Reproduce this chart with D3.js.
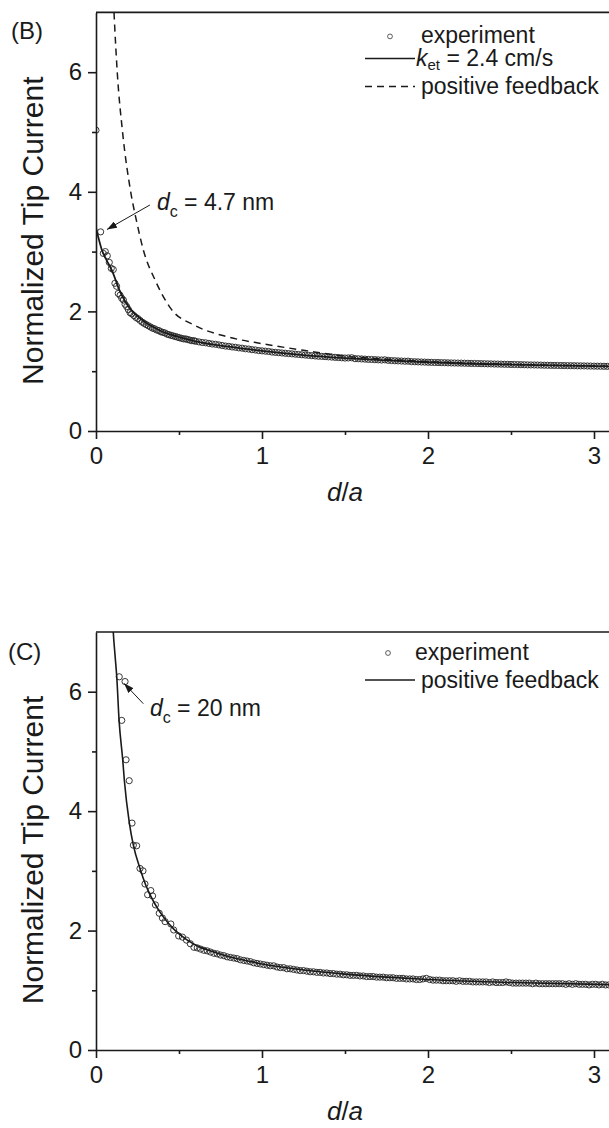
<!DOCTYPE html>
<html>
<head>
<meta charset="utf-8">
<script src="https://cdn.jsdelivr.net/npm/d3@7"></script>
<style>
  html, body { margin: 0; padding: 0; background: #fff; }
  svg { display: block; font-family: "Liberation Sans", Arial, sans-serif; }
</style>
</head>
<body>
<svg id="chart" width="609" height="1128"></svg>
<script>
// axis ticks (both panels share them)
const xTicks = [0, 1, 2, 3];
const xMinorTicks = [0.5, 1.5, 2.5];
const yTicks = [0, 2, 4, 6];
const yMinorTicks = [1, 3, 5];

// panel B: experiment, k_et = 2.4 cm/s fit, positive feedback
const expB = [
  [0.000,5.03],[0.028,3.33],[0.044,2.97],[0.056,3.00],[0.068,2.93],[0.080,2.82],[0.092,2.72],[0.104,2.70],[0.114,2.47],[0.124,2.42],
  [0.134,2.30],[0.145,2.27],[0.155,2.22],[0.165,2.19],[0.175,2.12],[0.185,2.08],[0.195,2.03],[0.205,1.98],[0.215,1.96],[0.228,1.93],
  [0.240,1.90],[0.252,1.88],[0.265,1.85],[0.278,1.82],[0.290,1.80],[0.302,1.78],[0.315,1.76],[0.328,1.74],[0.340,1.72],[0.352,1.71],
  [0.365,1.69],[0.378,1.68],[0.390,1.66],[0.402,1.65],[0.415,1.64],[0.428,1.62],[0.440,1.61],[0.452,1.60],[0.465,1.59],[0.478,1.58],
  [0.490,1.57],[0.502,1.56],[0.515,1.55],[0.528,1.54],[0.540,1.54],[0.552,1.53],[0.565,1.52],[0.578,1.51],[0.590,1.51],
  [0.60,1.50],[0.62,1.49],[0.64,1.48],[0.66,1.475],[0.68,1.465],[0.70,1.455],[0.72,1.45],[0.74,1.44],[0.76,1.43],[0.78,1.42],
  [0.80,1.415],[0.82,1.405],[0.84,1.40],[0.86,1.39],[0.88,1.385],[0.90,1.375],[0.92,1.37],[0.94,1.36],[0.96,1.355],[0.98,1.345],
  [1.00,1.34],[1.02,1.335],[1.04,1.33],[1.06,1.32],[1.08,1.315],[1.10,1.31],[1.12,1.305],[1.14,1.30],[1.16,1.295],[1.18,1.29],
  [1.20,1.285],[1.22,1.28],[1.24,1.275],[1.26,1.27],[1.28,1.265],[1.30,1.26],[1.32,1.255],[1.34,1.25],[1.36,1.248],[1.38,1.244],
  [1.40,1.24],[1.42,1.236],[1.44,1.232],[1.46,1.228],[1.48,1.224],[1.50,1.22],[1.52,1.222],[1.54,1.225],[1.56,1.21],[1.58,1.208],
  [1.60,1.205],[1.62,1.202],[1.64,1.198],[1.66,1.196],[1.68,1.193],[1.70,1.19],[1.72,1.187],[1.74,1.19],[1.76,1.182],[1.78,1.178],
  [1.80,1.175],[1.82,1.172],[1.84,1.17],[1.86,1.167],[1.88,1.168],[1.90,1.16],[1.92,1.158],[1.94,1.156],[1.96,1.154],[1.98,1.152],
  [2.00,1.15],[2.02,1.148],[2.04,1.146],[2.06,1.145],[2.08,1.143],[2.10,1.142],[2.12,1.14],[2.14,1.138],[2.16,1.137],[2.18,1.136],
  [2.20,1.135],[2.22,1.133],[2.24,1.132],[2.26,1.13],[2.28,1.129],[2.30,1.128],[2.32,1.126],[2.34,1.125],[2.36,1.123],[2.38,1.122],
  [2.40,1.12],[2.42,1.119],[2.44,1.118],[2.46,1.116],[2.48,1.115],[2.50,1.113],[2.52,1.112],[2.54,1.111],[2.56,1.109],[2.58,1.108],
  [2.60,1.106],[2.62,1.105],[2.64,1.104],[2.66,1.103],[2.68,1.102],[2.70,1.10],[2.72,1.099],[2.74,1.098],[2.76,1.097],[2.78,1.096],
  [2.80,1.095],[2.82,1.094],[2.84,1.093],[2.86,1.092],[2.88,1.091],[2.90,1.09],[2.92,1.089],[2.94,1.088],[2.96,1.087],[2.98,1.086],
  [3.00,1.085],[3.02,1.084],[3.04,1.083],[3.06,1.082],[3.08,1.081],[3.10,1.08]
];
const fitB = [
  [0,3.40],[0.035,3.03],[0.065,2.85],[0.095,2.69],[0.145,2.33],[0.175,2.17],[0.21,2.03],[0.25,1.92],[0.30,1.81],[0.35,1.73],
  [0.40,1.66],[0.45,1.61],[0.50,1.57],[0.60,1.50],[0.80,1.41],[1.00,1.34],[1.25,1.27],[1.50,1.22],[1.75,1.18],[2.00,1.15],
  [2.50,1.11],[3.10,1.08]
];
const pfB = [
  [0.105,7.2],[0.112,6.8],[0.128,6.0],[0.16,5.0],[0.209,4.0],[0.245,3.5],[0.285,3.03],[0.36,2.5],[0.45,2.05],[0.60,1.76],
  [0.80,1.57],[1.00,1.46],[1.25,1.35],[1.50,1.25],[1.75,1.20],[2.00,1.16],[2.50,1.115],[3.10,1.082]
];

// panel C: experiment, positive feedback
const expC = [
  [0.140,6.25],[0.175,6.17],[0.155,5.52],[0.181,4.86],[0.200,4.51],[0.217,3.80],[0.225,3.43],[0.245,3.42],[0.265,3.04],[0.283,3.00],
  [0.295,2.78],[0.311,2.60],[0.330,2.67],[0.341,2.58],[0.358,2.43],[0.381,2.29],[0.400,2.21],[0.416,2.15],[0.451,2.11],[0.468,2.01],
  [0.498,1.91],[0.521,1.89],[0.545,1.84],[0.568,1.78],[0.590,1.72],
  [0.61,1.71],[0.63,1.69],[0.65,1.67],[0.67,1.66],[0.69,1.64],[0.71,1.62],[0.73,1.61],[0.75,1.59],[0.77,1.58],[0.79,1.56],
  [0.81,1.55],[0.83,1.54],[0.85,1.53],[0.87,1.51],[0.89,1.50],[0.91,1.49],[0.93,1.48],[0.95,1.46],[0.97,1.45],[0.99,1.44],
  [1.01,1.43],[1.03,1.42],[1.05,1.41],[1.07,1.41],[1.09,1.39],[1.11,1.38],[1.13,1.38],[1.15,1.36],[1.17,1.36],[1.19,1.35],
  [1.21,1.34],[1.23,1.33],[1.25,1.33],[1.27,1.32],[1.29,1.31],[1.31,1.31],[1.33,1.30],[1.35,1.30],[1.37,1.29],[1.39,1.29],
  [1.41,1.28],[1.43,1.28],[1.45,1.27],[1.47,1.27],[1.49,1.26],[1.51,1.26],[1.53,1.25],[1.55,1.25],[1.57,1.25],[1.59,1.24],
  [1.61,1.24],[1.63,1.23],[1.65,1.23],[1.67,1.23],[1.69,1.22],[1.71,1.22],[1.73,1.22],[1.75,1.21],[1.77,1.21],[1.79,1.21],
  [1.81,1.20],[1.83,1.20],[1.85,1.20],[1.87,1.19],[1.89,1.19],[1.91,1.19],[1.93,1.18],[1.95,1.18],[1.97,1.19],[1.99,1.20],
  [2.01,1.18],[2.03,1.17],[2.05,1.17],[2.07,1.17],[2.09,1.16],[2.11,1.16],[2.13,1.16],[2.15,1.16],[2.17,1.15],[2.19,1.16],
  [2.21,1.15],[2.23,1.15],[2.25,1.15],[2.27,1.14],[2.29,1.14],[2.31,1.14],[2.33,1.14],[2.35,1.14],[2.37,1.13],[2.39,1.14],
  [2.41,1.13],[2.43,1.13],[2.45,1.13],[2.47,1.14],[2.49,1.13],[2.51,1.12],[2.53,1.12],[2.55,1.12],[2.57,1.12],[2.59,1.12],
  [2.61,1.12],[2.63,1.11],[2.65,1.12],[2.67,1.11],[2.69,1.11],[2.71,1.11],[2.73,1.11],[2.75,1.11],[2.77,1.11],[2.79,1.11],
  [2.81,1.11],[2.83,1.10],[2.85,1.11],[2.87,1.10],[2.89,1.11],[2.91,1.10],[2.93,1.10],[2.95,1.10],[2.97,1.09],[2.99,1.10],
  [3.01,1.10],[3.03,1.09],[3.05,1.10],[3.07,1.09],[3.09,1.09]
];
const pfC = [
  [0.102,7.1],[0.104,7.0],[0.115,6.6],[0.125,6.25],[0.139,5.52],[0.161,4.86],[0.171,4.51],[0.201,3.80],[0.225,3.43],[0.265,3.04],
  [0.30,2.76],[0.35,2.47],[0.40,2.25],[0.47,2.02],[0.55,1.84],[0.62,1.73],[0.70,1.65],[0.80,1.56],[0.90,1.50],[1.00,1.44],
  [1.25,1.34],[1.50,1.27],[1.75,1.22],[2.00,1.18],[2.50,1.13],[3.10,1.095]
];

const svg = d3.select('#chart');
const ink = '#1a1a1a';

// arrow head for the d_c notes
svg.append('defs').append('marker')
  .attr('id', 'arrow')
  .attr('viewBox', '0 0 10 7')
  .attr('refX', 10)
  .attr('refY', 3.5)
  .attr('markerWidth', 10)
  .attr('markerHeight', 7)
  .attr('markerUnits', 'userSpaceOnUse')
  .attr('orient', 'auto')
  .append('path')
  .attr('d', 'M0,0 L10,3.5 L0,7 Z')
  .attr('fill', ink);

function drawPanel(p) {
  const x = d3.scaleLinear().domain([0, 3.1]).range([96, 610.6]);
  const y = d3.scaleLinear().domain([0, 7]).range([p.bottom, p.top]);
  const g = svg.append('g');

  g.append('clipPath').attr('id', 'clip' + p.id)
    .append('rect')
    .attr('x', x(0)).attr('y', y(7))
    .attr('width', x(3.1) - x(0)).attr('height', y(0) - y(7));

  const plot = g.append('g').attr('clip-path', `url(#clip${p.id})`);

  // experiment points
  plot.selectAll('circle.exp')
    .data(p.exp)
    .enter()
    .append('circle')
    .attr('class', 'exp')
    .attr('cx', d => x(d[0]))
    .attr('cy', d => y(d[1]))
    .attr('r', 3.1)
    .attr('fill', 'none')
    .attr('stroke', '#222')
    .attr('stroke-width', 0.9);

  const line = d3.line()
    .x(d => x(d[0]))
    .y(d => y(d[1]))
    .curve(d3.curveMonotoneX);

  p.curves.forEach(c => {
    plot.append('path')
      .datum(c.data)
      .attr('d', line)
      .attr('fill', 'none')
      .attr('stroke', ink)
      .attr('stroke-width', c.width)
      .attr('stroke-dasharray', c.dash || null);
  });

  // axes
  const xAxis = g.append('g')
    .attr('transform', `translate(0,${y(0)})`)
    .call(d3.axisBottom(x).tickValues(xTicks).tickSize(8).tickSizeOuter(0).tickPadding(8).tickFormat(d3.format('d')));
  const xMinor = g.append('g')
    .attr('transform', `translate(0,${y(0)})`)
    .call(d3.axisBottom(x).tickValues(xMinorTicks).tickSize(4).tickFormat(''));
  xMinor.select('.domain').remove();

  const yAxis = g.append('g')
    .attr('transform', `translate(${x(0)},0)`)
    .call(d3.axisLeft(y).tickValues(yTicks).tickSize(8).tickSizeOuter(0).tickPadding(6).tickFormat(d3.format('d')));
  const yMinor = g.append('g')
    .attr('transform', `translate(${x(0)},0)`)
    .call(d3.axisLeft(y).tickValues(yMinorTicks).tickSize(4).tickFormat(''));
  yMinor.select('.domain').remove();

  [xAxis, xMinor, yAxis, yMinor].forEach(a => {
    a.selectAll('path, line').attr('stroke', ink).attr('stroke-width', 1.6);
    a.selectAll('text')
      .attr('fill', ink)
      .style('font-family', '"Liberation Sans", Arial, sans-serif')
      .style('font-size', '24px');
  });

  // top frame line
  g.append('line')
    .attr('x1', x(0)).attr('x2', x(3.1))
    .attr('y1', y(7)).attr('y2', y(7))
    .attr('stroke', ink)
    .attr('stroke-width', 1.6);

  // axis titles
  g.append('text')
    .attr('transform', `translate(43,${(y(0) + y(7)) / 2 + 9}) rotate(-90)`)
    .attr('text-anchor', 'middle')
    .attr('fill', ink)
    .style('font-size', '30px')
    .text('Normalized Tip Current');

  const xt = g.append('text')
    .attr('x', x(1.5))
    .attr('y', y(0) + 70)
    .attr('text-anchor', 'middle')
    .attr('fill', ink)
    .style('font-size', '26px');
  xt.append('tspan').style('font-style', 'italic').text('d');
  xt.append('tspan').text('/');
  xt.append('tspan').style('font-style', 'italic').text('a');

  // panel letter
  g.append('text')
    .attr('x', p.labelX)
    .attr('y', y(7) + p.labelDy)
    .attr('fill', ink)
    .style('font-size', '24px')
    .text(p.label);

  // legend
  p.legend.forEach(item => {
    const ly = y(7) + item.dy;
    if (item.kind === 'circle') {
      g.append('circle')
        .attr('cx', item.sx).attr('cy', ly - 7)
        .attr('r', 2.4)
        .attr('fill', 'none')
        .attr('stroke', '#333')
        .attr('stroke-width', 0.8);
    } else {
      g.append('line')
        .attr('x1', 365).attr('x2', 415)
        .attr('y1', ly - 8).attr('y2', ly - 8)
        .attr('stroke', ink)
        .attr('stroke-width', 1.5)
        .attr('stroke-dasharray', item.kind === 'dash' ? '7,5' : null);
    }
    const t = g.append('text')
      .attr('x', item.tx)
      .attr('y', ly)
      .attr('fill', ink)
      .style('font-size', '23px');
    if (item.sub) {
      t.append('tspan').style('font-style', 'italic').text(item.text);
      t.append('tspan').attr('dy', 4).style('font-size', '15px').text(item.sub);
      t.append('tspan').attr('dy', -4).text(item.rest);
    } else {
      t.text(item.text);
    }
  });

  // d_c note with arrow
  const n = p.note;
  g.append('line')
    .attr('x1', x(n.from[0])).attr('y1', y(n.from[1]))
    .attr('x2', x(n.to[0])).attr('y2', y(n.to[1]))
    .attr('stroke', ink)
    .attr('stroke-width', 1)
    .attr('marker-end', 'url(#arrow)');
  const nt = g.append('text')
    .attr('x', x(n.at[0]))
    .attr('y', y(n.at[1]))
    .attr('fill', ink)
    .style('font-size', '23px');
  nt.append('tspan').style('font-style', 'italic').text('d');
  nt.append('tspan').attr('dy', 7).style('font-size', '16px').text('c');
  nt.append('tspan').attr('dy', -7).text(n.text);
}

drawPanel({
  id: 'B',
  top: 12.4,
  bottom: 431,
  exp: expB,
  curves: [
    { data: fitB, width: 1.8 },
    { data: pfB, width: 1.5, dash: '7,5' }
  ],
  label: '(B)',
  labelX: 11,
  labelDy: 27,
  legend: [
    { kind: 'circle', sx: 390, tx: 421, dy: 31, text: 'experiment' },
    { kind: 'solid', tx: 416, dy: 54, text: 'k', sub: 'et', rest: ' = 2.4 cm/s' },
    { kind: 'dash', tx: 421, dy: 82, text: 'positive feedback' }
  ],
  note: { from: [0.325, 3.78], to: [0.066, 3.37], at: [0.367, 3.70], text: ' = 4.7 nm' }
});

drawPanel({
  id: 'C',
  top: 632,
  bottom: 1050,
  exp: expC,
  curves: [
    { data: pfC, width: 1.6 }
  ],
  label: '(C)',
  labelX: 8,
  labelDy: 28,
  legend: [
    { kind: 'circle', sx: 388, tx: 415, dy: 28, text: 'experiment' },
    { kind: 'solid', tx: 421, dy: 56, text: 'positive feedback' }
  ],
  note: { from: [0.285, 5.80], to: [0.169, 6.14], at: [0.325, 5.59], text: ' = 20 nm' }
});
</script>
</body>
</html>
